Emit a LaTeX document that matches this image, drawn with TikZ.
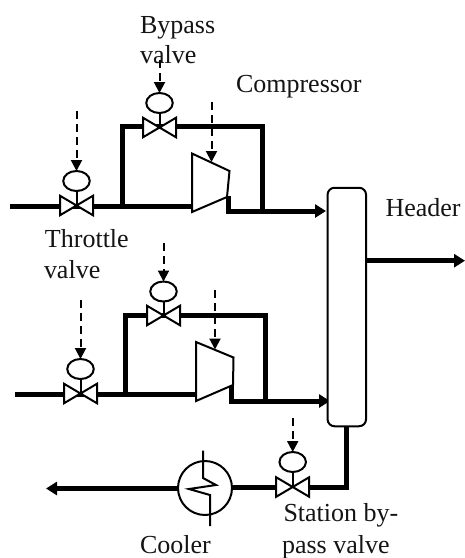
\documentclass[tikz,border=0pt]{standalone}
\usepackage{fontspec}
\setmainfont{Liberation Serif}
\usetikzlibrary{arrows.meta,shapes.geometric}
\tikzset{
  pipe/.style={line width=5pt,line join=miter},
  pipearrow/.style={pipe,-{Triangle[length=11pt,width=13pt]}},
  signal/.style={line width=2pt,dash pattern=on 7.5pt off 5.5pt,-{Triangle[length=11pt,width=11pt]}},
  valvebox/.style={minimum width=33pt,minimum height=19.5pt,inner sep=0pt,outer sep=0pt},
  bowtie/.style={line width=2pt,fill=white,line join=miter},
  actuator/.style={ellipse,draw,line width=2pt,minimum width=26.5pt,minimum height=20pt,inner sep=0pt,outer sep=0pt,fill=white},
  compr/.style={line width=2pt,fill=white,line join=miter},
  lab/.style={anchor=base west,inner sep=0pt,outer sep=0pt,font=\fontsize{26}{30}\selectfont,text=black!92},
  cooler/.style={circle,draw,line width=2pt,minimum size=54pt,inner sep=0pt,outer sep=0pt,fill=white},
  header/.style={draw,line width=2pt,rounded corners=7pt,minimum width=38.5pt,minimum height=238.5pt,inner sep=0pt,outer sep=0pt,fill=white},
  thin line/.style={line width=2pt}
}
\newcommand{\valveunit}[4]{% name, x, y, ellipse dy
  \node[valvebox] (#1) at (#2,#3) {};
  \node[actuator] (#1act) at (#2,#3-#4) {};
  \draw[bowtie] (#1.north west) -- (#1.south east) -- (#1.north east) -- (#1.south west) -- cycle;
  \draw[thin line] (#1act.south) -- (#1.center);
}
\begin{document}
\begin{tikzpicture}[x=1pt,y=-1pt]
\useasboundingbox[fill=white] (0,0) rectangle (465,558);

% labels first: the bypass signal line runs over "valve"
\node[lab] (l1) at (140,33) {Bypass};
\node[lab] (l2) at (140,63) {valve};
\node[lab] (l3) at (236,92) {Compressor};
\node[lab] (l4) at (385.5,216.5) {Header};
\node[lab] (l5) at (45,247) {Throttle};
\node[lab] (l6) at (44,278) {valve};
\node[lab] (l7) at (283.5,521.5) {Station by-};
\node[lab] (l8) at (282,553) {pass valve};
\node[lab] (l9) at (140,553) {Cooler};

% junctions and free ends
\coordinate (inA) at (10,206);
\coordinate (jA) at (122,206);
\coordinate (cornerA1) at (122,126.5);
\coordinate (cornerA2) at (262,126.5);
\coordinate (jA2) at (262,211);
\coordinate (cinA) at (192,206);
\coordinate (coutA) at (228,196);
\coordinate (coutAb) at (228,211);
\coordinate (inB) at (15,394);
\coordinate (jB) at (125.7,394);
\coordinate (cornerB1) at (125.7,315);
\coordinate (cornerB2) at (265.7,315);
\coordinate (jB2) at (265.7,401);
\coordinate (cinB) at (196,394);
\coordinate (coutB) at (231.5,384);
\coordinate (coutBb) at (231.5,401);
\coordinate (tipA) at (326,211);
\coordinate (tipB) at (330,401);
\coordinate (outH) at (465,260.7);
\coordinate (hdrL) at (366,260.7);
\coordinate (hdrB) at (346,426);
\coordinate (bendS) at (346,487);
\coordinate (tipC) at (46,488.5);

% pipes
\draw[pipe] (inA) -- (cinA);
\draw[pipe] (jA) -- (cornerA1) -- (cornerA2) -- (jA2);
\draw[pipe] (coutA) -- (coutAb) -- (jA2);
\draw[pipearrow] (jA2) -- (tipA);
\draw[pipe] (inB) -- (cinB);
\draw[pipe] (jB) -- (cornerB1) -- (cornerB2) -- (jB2);
\draw[pipe] (coutB) -- (coutBb) -- (jB2);
\draw[pipearrow] (jB2) -- (tipB);

% compressors
\draw[compr] (192,153.5) -- (229.5,171) -- (227,197) -- (192,212) -- cycle;
\draw[compr] (196,342) -- (233.5,357.5) -- (233,385) -- (196,401) -- cycle;

% header
\node[header] (hdr) at (346.8,307) {};
\draw[pipearrow] (hdr.east|-hdrL) -- (outH);

% valves
\valveunit{vA}{76.5}{205.5}{24.5}
\valveunit{vB}{159.5}{127.5}{24.5}
\valveunit{vC}{80.5}{393.5}{24.5}
\valveunit{vD}{163.5}{315.5}{24}
\valveunit{vE}{292.7}{487}{25}

% cooler
\node[cooler] (cool) at (205,488) {};
\coordinate (coilT) at (203,450.7);
\coordinate (coilB) at (210,526);
\draw[thin line,line join=miter] (coilT) -- (203,478) -- (216,485) -- (189,489) -- (210,495) -- (coilB);

% bottom line
\draw[pipe] (hdrB) -- (bendS) -- (vE.east);
\draw[pipe] (vE.west) -- (vE.west-|cool.east);
\draw[pipearrow] (cool.west|-tipC) -- (tipC);

% control signals
\coordinate (sA) at (76.5,111);
\coordinate (sB) at (159.5,60);
\coordinate (sC) at (80.5,300);
\coordinate (sD) at (163.5,243);
\coordinate (sE) at (292.7,418);
\coordinate (sF) at (211.5,102);
\coordinate (sFt) at (211.5,162);
\coordinate (sG) at (215,290);
\coordinate (sGt) at (215,349.5);
\draw[signal] (sA) -- (vAact.north);
\draw[signal] (sB) -- (vBact.north);
\draw[signal] (sC) -- (vCact.north);
\draw[signal] (sD) -- (vDact.north);
\draw[signal] (sE) -- (vEact.north);
\draw[signal] (sF) -- (sFt);
\draw[signal] (sG) -- (sGt);
\end{tikzpicture}
\end{document}
